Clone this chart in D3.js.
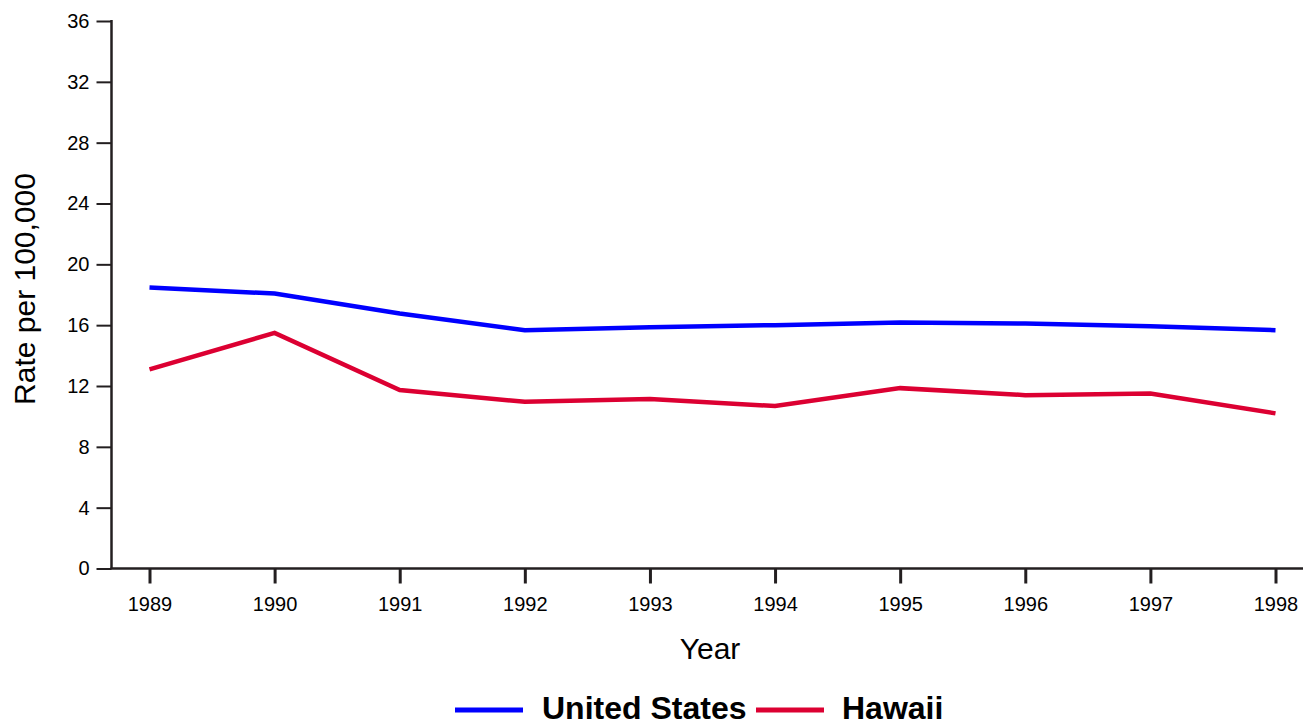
<!DOCTYPE html>
<html><head><meta charset="utf-8">
<script src="https://cdn.jsdelivr.net/npm/d3@7"></script>
<style>body{margin:0;background:#fff;overflow:hidden;} svg{display:block;} text{font-family:"Liberation Sans",Arial,sans-serif;}</style>
</head><body>
<svg id="c" width="1303" height="727"></svg>
<script>
const years = [1989,1990,1991,1992,1993,1994,1995,1996,1997,1998];
const usValues = [18.48,18.08,16.77,15.67,15.87,16.0,16.18,16.11,15.93,15.67];
const hawaiiValues = [13.09,15.49,11.73,10.96,11.14,10.68,11.86,11.4,11.51,10.2];
const yTicks = [0,4,8,12,16,20,24,28,32,36];
const seriesNames = ["United States","Hawaii"];
const colors = ["#0000ff","#dc0032"];

const svg = d3.select("#c");
const x = d3.scalePoint().domain(years).range([149.5,1275.5]);
const y = d3.scaleLinear().domain([0,36]).range([568.5,21]);
const axisX0 = 111.5, axisXEnd = 1303;

// axes
const yAxis = svg.append("g").attr("transform",`translate(${axisX0},0)`)
  .call(d3.axisLeft(y).tickValues(yTicks).tickSize(15).tickPadding(7).tickSizeOuter(0));
yAxis.select(".domain").remove();
yAxis.append("line").attr("x1",0).attr("x2",0).attr("y1",y(36)-1).attr("y2",y(0)).attr("stroke","#231f20").attr("stroke-width",2.5);
yAxis.selectAll(".tick line").attr("stroke","#231f20").attr("stroke-width",2);
yAxis.selectAll(".tick text").style("font-size","20px").attr("fill","#000");

const xAxis = svg.append("g").attr("transform",`translate(0,${y(0)})`)
  .call(d3.axisBottom(x).tickSize(15).tickPadding(13).tickSizeOuter(0));
xAxis.select(".domain").remove();
xAxis.append("line").attr("x1",axisX0-1).attr("x2",axisXEnd).attr("y1",0).attr("y2",0).attr("stroke","#231f20").attr("stroke-width",2.5);
xAxis.selectAll(".tick line").attr("stroke","#231f20").attr("stroke-width",3);
xAxis.selectAll(".tick text").style("font-size","20px").attr("fill","#000");

// axis titles
svg.append("text").attr("x",710).attr("y",659).attr("text-anchor","middle").style("font-size","30px").text("Year");
svg.append("text").attr("transform","translate(35,289) rotate(-90)").attr("text-anchor","middle").style("font-size","30px").text("Rate per 100,000");

// lines
const line = d3.line().x((d,i)=>x(years[i])).y(d=>y(d));
[usValues,hawaiiValues].forEach((vals,k)=>{
  svg.append("path").datum(vals).attr("d",line).attr("fill","none")
    .attr("stroke",colors[k]).attr("stroke-width",4.5).attr("stroke-linejoin","miter");
});

// legend
const legendItems = [{x1:455,tx:542},{x1:756,tx:842}];
legendItems.forEach((it,k)=>{
  svg.append("line").attr("x1",it.x1).attr("x2",it.x1+68).attr("y1",710).attr("y2",710)
    .attr("stroke",colors[k]).attr("stroke-width",5);
  svg.append("text").attr("x",it.tx).attr("y",719).style("font-size","32px").attr("font-weight","bold").text(seriesNames[k]);
});
</script>
</body></html>
